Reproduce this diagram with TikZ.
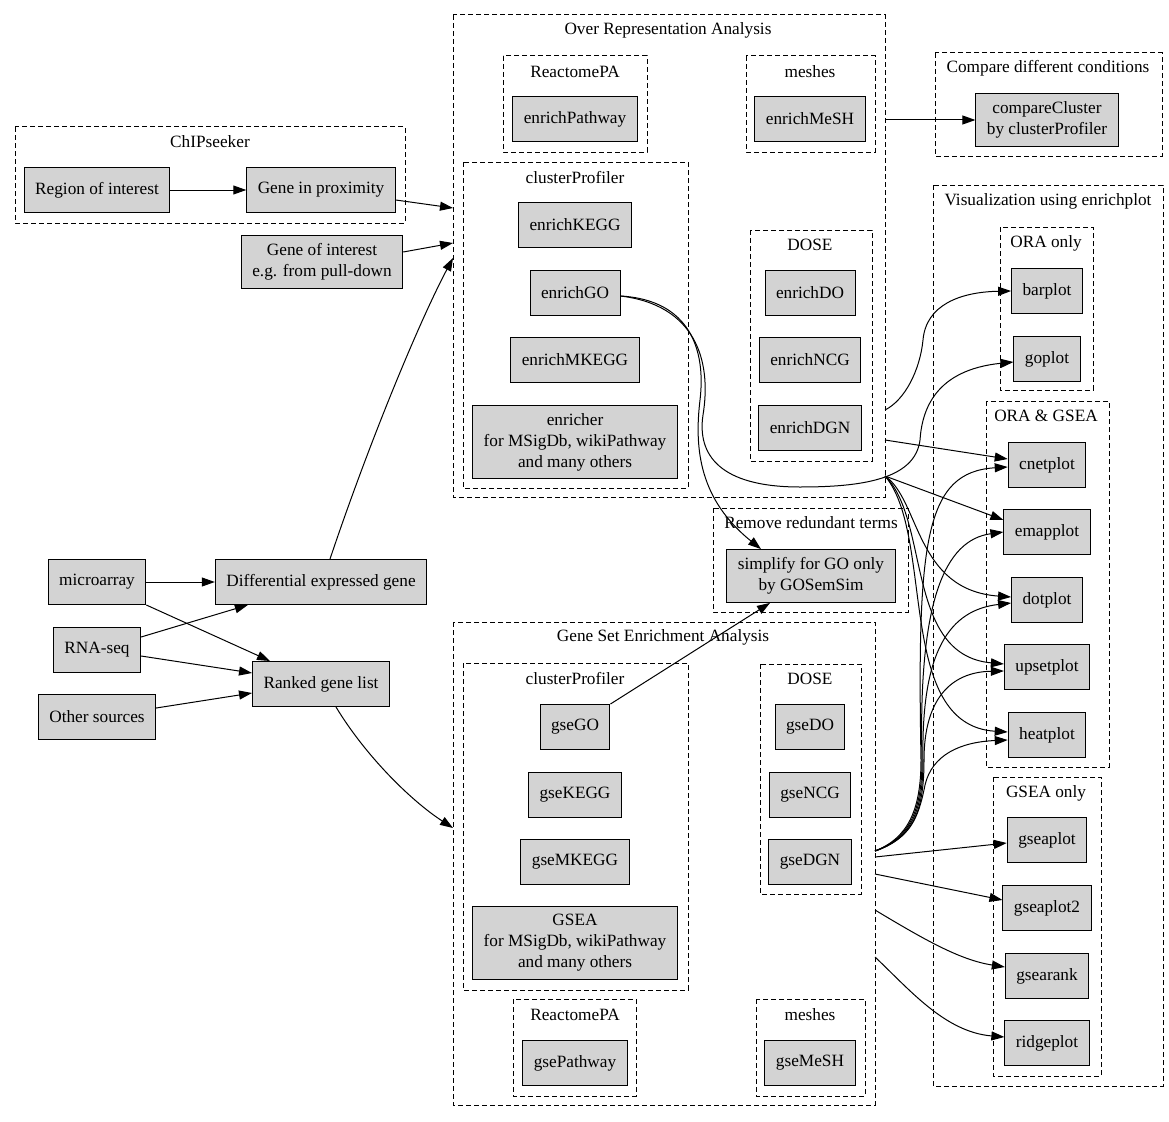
\documentclass[tikz,border=0pt]{standalone}
\usepackage{fontspec}
\setmainfont{Liberation Serif}
\usetikzlibrary{arrows.meta}
\definecolor{boxgray}{HTML}{D3D3D3}
\begin{document}
\begin{tikzpicture}[x=1pt,y=-1pt]
        \tikzstyle{box}=[draw, fill=boxgray, line width=1pt, minimum height=45pt, minimum width=66pt, inner xsep=11pt, inner ysep=8pt, align=center, font=\fontsize{17.25}{21}\selectfont]
        \tikzstyle{cluster}=[draw, dash pattern=on 5pt off 3pt, line width=1pt]
        \tikzstyle{clabel}=[inner sep=0pt, font=\fontsize{17.25}{21}\selectfont]
        \tikzstyle{link}=[-{Triangle[length=13pt,width=9pt]}, line width=1pt]
        \useasboundingbox (0,0) rectangle (1169,1121);

        \draw[cluster] (15,127) rectangle (405,223);
        \node[clabel] (chipLabel) at (210,142) {ChIPseeker};
        \draw[cluster] (453,15) rectangle (885,497);
        \node[clabel] (oraLabel) at (668,30) {Over Representation Analysis};
        \draw[cluster] (503,56) rectangle (647,152);
        \node[clabel] (oraReactomeLabel) at (575,72) {ReactomePA};
        \draw[cluster] (746,56) rectangle (875,152);
        \node[clabel] (oraMeshesLabel) at (810,72) {meshes};
        \draw[cluster] (463,162) rectangle (688,488);
        \node[clabel] (oraCPLabel) at (575,178) {clusterProfiler};
        \draw[cluster] (750,230) rectangle (872,461);
        \node[clabel] (oraDoseLabel) at (810,245) {DOSE};
        \draw[cluster] (935,53) rectangle (1162,156);
        \node[clabel] (compareLabel) at (1048,68) {Compare different conditions};
        \draw[cluster] (933,185) rectangle (1163,1086);
        \node[clabel] (visLabel) at (1048,201) {Visualization using enrichplot};
        \draw[cluster] (1000,227) rectangle (1093,390);
        \node[clabel] (oraOnlyLabel) at (1046,243) {ORA only};
        \draw[cluster] (986,401) rectangle (1109,767);
        \node[clabel] (bothLabel) at (1046,416) {ORA \& GSEA};
        \draw[cluster] (993,777) rectangle (1101,1076);
        \node[clabel] (gseaOnlyLabel) at (1046,793) {GSEA only};
        \draw[cluster] (713,508) rectangle (908,612);
        \node[clabel] (redundantLabel) at (811,523) {Remove redundant terms};
        \draw[cluster] (453,622) rectangle (875,1105);
        \node[clabel] (gseaLabel) at (663,637) {Gene Set Enrichment Analysis};
        \draw[cluster] (463,663) rectangle (688,990);
        \node[clabel] (gseaCPLabel) at (575,679) {clusterProfiler};
        \draw[cluster] (760,664) rectangle (861,894);
        \node[clabel] (gseaDoseLabel) at (810,679) {DOSE};
        \draw[cluster] (513,999) rectangle (636,1096);
        \node[clabel] (gseaReactomeLabel) at (575,1015) {ReactomePA};
        \draw[cluster] (756,999) rectangle (865,1096);
        \node[clabel] (gseaMeshesLabel) at (810,1015) {meshes};

        \node[box] (roi) at (97,190) {Region of interest};
        \node[box] (prox) at (321,190) {Gene in proximity};
        \node[box] (goi) at (322,262) {Gene of interest\\e.g. from pull-down};
        \node[box] (microarray) at (97,582) {microarray};
        \node[box] (deg) at (321,582) {Differential expressed gene};
        \node[box] (rnaseq) at (97,650) {RNA-seq};
        \node[box] (ranked) at (321,684) {Ranked gene list};
        \node[box] (other) at (97,717) {Other sources};

        \node[box] (enrichPathway) at (575,119) {enrichPathway};
        \node[box] (enrichMeSH) at (810,119) {enrichMeSH};
        \node[box] (enrichKEGG) at (575,225) {enrichKEGG};
        \node[box] (enrichGO) at (575,293) {enrichGO};
        \node[box] (enrichMKEGG) at (575,360) {enrichMKEGG};
        \node[box] (enricher) at (575,442) {enricher\\for MSigDb, wikiPathway\\and many others};
        \node[box] (enrichDO) at (810,293) {enrichDO};
        \node[box] (enrichNCG) at (810,360) {enrichNCG};
        \node[box] (enrichDGN) at (810,428) {enrichDGN};

        \node[box] (simplify) at (811,576) {simplify for GO only\\by GOSemSim};

        \node[box] (gseGO) at (575,727) {gseGO};
        \node[box] (gseKEGG) at (575,795) {gseKEGG};
        \node[box] (gseMKEGG) at (575,862) {gseMKEGG};
        \node[box] (gsea) at (575,943) {GSEA\\for MSigDb, wikiPathway\\and many others};
        \node[box] (gseDO) at (810,727) {gseDO};
        \node[box] (gseNCG) at (810,795) {gseNCG};
        \node[box] (gseDGN) at (810,862) {gseDGN};
        \node[box] (gsePathway) at (575,1063) {gsePathway};
        \node[box] (gseMeSH) at (810,1063) {gseMeSH};

        \node[box] (compareCluster) at (1047,120) {compareCluster\\by clusterProfiler};
        \node[box] (barplot) at (1047,291) {barplot};
        \node[box] (goplot) at (1047,359) {goplot};
        \node[box] (cnetplot) at (1047,465) {cnetplot};
        \node[box] (emapplot) at (1047,532) {emapplot};
        \node[box] (dotplot) at (1047,600) {dotplot};
        \node[box] (upsetplot) at (1047,667) {upsetplot};
        \node[box] (heatplot) at (1047,735) {heatplot};
        \node[box] (gseaplot) at (1047,840) {gseaplot};
        \node[box] (gseaplotTwo) at (1047,908) {gseaplot2};
        \node[box] (gsearank) at (1047,976) {gsearank};
        \node[box] (ridgeplot) at (1047,1043) {ridgeplot};

        \coordinate (oraIn1) at (453,208);
        \coordinate (oraIn2) at (453,243);
        \coordinate (oraIn3) at (453,258);
        \coordinate (gseaIn) at (453,828);
        \coordinate (oraOut0) at (885,120);
        \coordinate (oraOut1) at (885,410);
        \coordinate (oraOut2) at (885,440);
        \coordinate (oraOut3) at (885,476);
        \coordinate (gseaOut1) at (875,851);
        \coordinate (gseaOut2) at (875,857);
        \coordinate (gseaOut3) at (875,874);
        \coordinate (gseaOut4) at (875,910);
        \coordinate (gseaOut5) at (875,957);

        \draw[link] (roi) -- (prox);
        \draw[link] ([yshift=-10pt]prox.east) -- (oraIn1);
        \draw[link] ([yshift=10pt]goi.east) -- (oraIn2);
        \draw[link] ([xshift=9pt]deg.north) .. controls (370,440) and (420,320) .. (oraIn3);
        \draw[link] (microarray) -- (deg);
        \draw[link] (microarray.south east) -- ([xshift=18pt]ranked.north west);
        \draw[link] ([yshift=13pt]rnaseq.east) -- ([xshift=33pt]deg.south west);
        \draw[link] ([yshift=-6pt]rnaseq.east) -- ([yshift=11pt]ranked.west);
        \draw[link] ([yshift=9pt]other.east) -- ([yshift=-9pt]ranked.west);
        \draw[link] ([xshift=15pt]ranked.south) .. controls (365,755) and (410,800) .. (gseaIn);

        \draw[link] (oraOut0) -- (compareCluster);
        \draw[link] (oraOut1) .. controls (905,400) and (920,370) .. (923,340) .. controls (926,305) and (960,292) .. (barplot.west);
        \draw[link] (oraOut2) -- ([yshift=6pt]cnetplot.west);
        \draw[link] (oraOut3) -- ([yshift=12pt]emapplot.west);
        \draw[link] (oraOut3) .. controls (920,500) and (915,590) .. ([yshift=3pt]dotplot.west);
        \draw[link] (oraOut3) .. controls (930,520) and (905,655) .. ([yshift=3pt]upsetplot.west);
        \draw[link] (oraOut3) .. controls (935,535) and (895,725) .. ([yshift=3pt]heatplot.west);

        \draw[link] ([yshift=-3pt]enrichGO.east) .. controls (690,300) and (706,350) .. (700,400) .. controls (694,450) and (700,500) .. ([xshift=-50pt]simplify.north);
        \draw[link] ([yshift=-3pt]enrichGO.east) .. controls (695,305) and (712,360) .. (703,415) .. controls (697,455) and (720,487) .. (800,487) .. controls (860,487) and (915,480) .. (920,440) .. controls (922,410) and (935,370) .. ([yshift=-3pt]goplot.west);
        \draw[link] (gseGO.north east) -- ([xshift=-41pt]simplify.south);

        \draw[link] (gseaOut1) .. controls (908,838) and (921,810) .. (921,760) .. controls (917,540) and (925,472) .. ([yshift=-2pt]cnetplot.west);
        \draw[link] (gseaOut1) .. controls (910,838) and (922,810) .. (922,760) .. controls (918,600) and (945,540) .. (emapplot.west);
        \draw[link] (gseaOut1) .. controls (912,838) and (923,810) .. (923,760) .. controls (921,650) and (950,610) .. ([yshift=-3pt]dotplot.west);
        \draw[link] (gseaOut1) .. controls (914,838) and (924,810) .. (924,760) .. controls (924,700) and (950,672) .. ([yshift=-4pt]upsetplot.west);
        \draw[link] (gseaOut1) .. controls (910,838) and (918,820) .. (925,785) .. controls (932,755) and (960,742) .. ([yshift=-5pt]heatplot.west);
        \draw[link] (gseaOut2) -- ([yshift=-3pt]gseaplot.west);
        \draw[link] (gseaOut3) -- ([yshift=8pt]gseaplotTwo.west);
        \draw[link] (gseaOut4) .. controls (925,940) and (960,960) .. ([yshift=9pt]gsearank.west);
        \draw[link] (gseaOut5) .. controls (910,990) and (945,1032) .. ([yshift=6pt]ridgeplot.west);
    \end{tikzpicture}
\end{document}
